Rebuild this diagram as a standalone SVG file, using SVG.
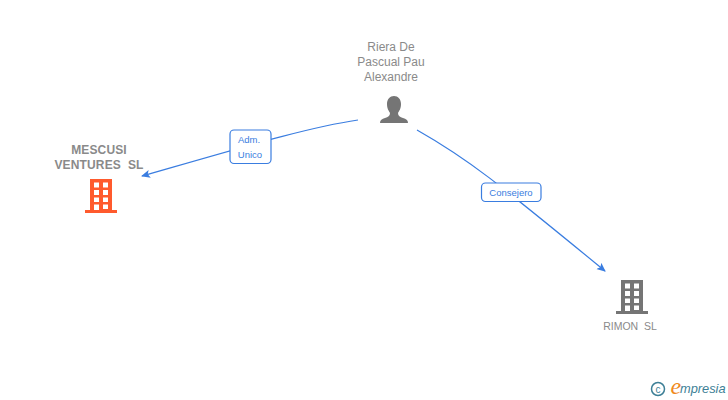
<svg xmlns="http://www.w3.org/2000/svg" width="728" height="400" viewBox="0 0 728 400">
<style>
text{font-family:"Liberation Sans",Arial,sans-serif}
.n{font-size:12px;fill:#8a8a8a;text-anchor:middle}
.b{font-weight:bold;letter-spacing:.15px;white-space:pre}
.s{font-size:10.500px;fill:#8a8a8a;text-anchor:middle;white-space:pre}
.l{font-size:9.500px;fill:#3a7de0;text-anchor:middle}
.c{fill:none;stroke:#3a7de0;stroke-width:1.200}
.lb{fill:#fff;stroke:#3a7de0;stroke-width:1.200}
</style>
<defs>
<marker id="a" markerWidth="10" markerHeight="10" refX="8" refY="4" orient="auto" markerUnits="userSpaceOnUse"><path d="M0 0L9 4L0 8L2 4Z" fill="#3a7de0"/></marker>
<symbol id="bld" viewBox="0 0 32 34" overflow="visible">
<path fill-rule="evenodd" d="M5 0H27V31H32V34H0V31H5ZM9 3.500V8.500H14V3.500ZM18 3.500V8.500H23V3.500ZM9 11V16H14V11ZM18 11V16H23V11ZM9 18.500V23H14V18.500ZM18 18.500V23H23V18.500ZM9 25.500V31H14V25.500ZM18 25.500V30H23V25.500Z"/>
</symbol>
</defs>
<g id="connectors">
<path class="c" marker-end="url(#a)" d="M358 120C310 127 250 145 142 176"/>
<path class="c" marker-end="url(#a)" d="M417 130C470 160 500 185 605 271"/>
</g>
<g id="edge-label-1">
<rect class="lb" x="230" y="130" width="41" height="33.500" rx="4"/>
<text class="l" x="249" y="143">Adm.</text>
<text class="l" x="250" y="158">Unico</text>
</g>
<g id="edge-label-2">
<rect class="lb" x="481.500" y="183" width="59.500" height="18.500" rx="4"/>
<text class="l" x="511" y="195.500">Consejero</text>
</g>
<g id="node-person">
<text class="n" x="391" y="51">Riera De</text>
<text class="n" x="391" y="66">Pascual Pau</text>
<text class="n" x="391" y="81">Alexandre</text>
<path fill="#757575" d="M394 96C398 96 401 99 401 104C401 109 399 111 398 113C398 116 400 117 403 118C406 119 408 120 408 123H380C380 120 382 119 385 118C388 117 390 116 390 113C389 111 387 109 387 104C387 99 390 96 394 96Z"/>
</g>
<g id="node-mescusi">
<text class="n b" x="99" y="154">MESCUSI</text>
<text class="n b" x="99" y="169">VENTURES  SL</text>
<use href="#bld" x="85" y="179" width="32" height="34" fill="#ff5a2d"/>
</g>
<g id="node-rimon">
<text class="s" x="630" y="330">RIMON  SL</text>
<use href="#bld" x="616" y="280" width="32" height="34" fill="#757575"/>
</g>
<g id="logo">
<circle cx="658" cy="389" r="6.500" fill="none" stroke="#3d7f96" stroke-width="1.500"/>
<text x="658" y="392.500" font-size="10" fill="#3d7f96" text-anchor="middle">c</text>
<text x="670.500" y="394" font-size="24" fill="#f08a1d" style="font-family:'Liberation Serif',serif;font-style:italic">e</text>
<text x="680" y="393" font-size="12.800" fill="#3d7f96" style="font-family:'Liberation Sans',sans-serif;font-style:italic">mpresia</text>
</g>
</svg>
